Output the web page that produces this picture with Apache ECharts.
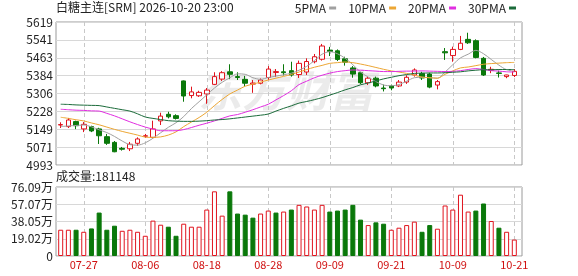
<!DOCTYPE html>
<html><head><meta charset="utf-8">
<script src="https://cdn.jsdelivr.net/npm/echarts@6/dist/echarts.min.js"></script>
<style>html,body{margin:0;padding:0;background:#fff}#c{width:578px;height:276px}</style>
</head><body><div id="c"></div>
<script>
const dates = ['07-22','07-23','07-24','07-27','07-28','07-29','07-30','07-31','08-03','08-04','08-05','08-06','08-07','08-10','08-11','08-12','08-13','08-14','08-17','08-18','08-19','08-20','08-21','08-24','08-25','08-26','08-27','08-28','08-31','09-01','09-02','09-03','09-04','09-07','09-08','09-09','09-10','09-11','09-14','09-15','09-16','09-17','09-18','09-21','09-22','09-23','09-24','09-25','09-28','09-29','09-30','10-09','10-12','10-13','10-14','10-15','10-16','10-19','10-20','10-21'];
const openP = [5168,5161,5183,5151,5161,5151,5117,5092,5066,5064,5088,5119,5114,5186,5215,5209,5361,5297,5296,5304,5346,5369,5401,5380,5368,5347,5351,5376,5398,5401,5406,5389,5400,5445,5456,5496,5493,5458,5418,5397,5353,5373,5330,5339,5339,5356,5387,5394,5391,5343,5489,5472,5499,5543,5537,5460,5408,5396,5380,5385];
const closeP = [5170,5190,5165,5171,5142,5121,5088,5051,5062,5084,5107,5121,5151,5207,5204,5197,5295,5313,5311,5321,5380,5397,5390,5376,5351,5352,5365,5413,5402,5397,5387,5438,5446,5467,5514,5490,5455,5443,5391,5353,5373,5339,5327,5330,5356,5377,5409,5374,5334,5358,5484,5499,5526,5528,5464,5387,5412,5394,5387,5403];
const lowP = [5155,5155,5150,5137,5137,5085,5081,5049,5056,5054,5077,5112,5110,5168,5197,5192,5270,5285,5291,5261,5343,5361,5369,5365,5339,5309,5346,5365,5378,5385,5380,5374,5387,5438,5450,5470,5448,5428,5375,5347,5343,5333,5315,5320,5334,5348,5380,5365,5329,5324,5453,5445,5496,5523,5460,5383,5395,5376,5373,5378];
const highP = [5180,5199,5187,5181,5165,5156,5129,5098,5072,5094,5114,5129,5187,5222,5226,5215,5363,5336,5318,5330,5399,5404,5434,5399,5383,5365,5372,5426,5413,5434,5445,5450,5460,5479,5523,5510,5499,5467,5426,5401,5379,5380,5345,5345,5365,5386,5416,5401,5397,5365,5505,5511,5558,5572,5543,5466,5423,5406,5388,5413];
const ma5 = [5161,5164,5166,5168,5160,5147,5135,5118,5098,5082,5080,5090,5110,5134,5158,5178,5205,5240,5270,5300,5330,5355,5375,5392,5390,5375,5368,5376,5382,5388,5395,5408,5425,5450,5478,5489,5480,5460,5432,5400,5378,5358,5343,5340,5345,5360,5375,5377,5375,5373,5400,5432,5462,5478,5495,5480,5455,5430,5410,5404];
const ma10 = [5202,5197,5191,5186,5177,5169,5159,5149,5140,5132,5124,5115,5114,5116,5124,5138,5161,5181,5201,5224,5253,5280,5304,5321,5338,5347,5356,5365,5373,5381,5389,5400,5411,5421,5429,5438,5441,5444,5441,5435,5428,5420,5412,5405,5400,5394,5386,5378,5375,5373,5390,5405,5418,5422,5428,5434,5437,5439,5441,5442];
const ma20 = [5237,5235,5233,5232,5230,5229,5219,5208,5195,5182,5170,5159,5150,5143,5143,5143,5148,5157,5167,5176,5186,5197,5208,5214,5224,5235,5247,5259,5278,5297,5318,5345,5360,5375,5386,5395,5402,5406,5409,5408,5406,5404,5402,5402,5403,5404,5404,5405,5404,5403,5402,5403,5406,5411,5415,5411,5406,5404,5401,5400];
const ma30 = [5259,5258,5256,5255,5254,5253,5247,5241,5235,5229,5217,5203,5197,5192,5187,5185,5184,5184,5185,5187,5190,5192,5195,5199,5203,5207,5211,5216,5229,5241,5252,5264,5271,5279,5288,5299,5310,5322,5332,5344,5352,5361,5370,5377,5384,5389,5394,5395,5396,5396,5397,5399,5401,5405,5408,5410,5410,5411,5411,5411];
const volume = [289500,289500,289500,267000,304000,479000,289500,334000,278000,289500,267000,223000,390000,345000,323000,223000,356000,323000,323000,512000,713000,445000,713000,468000,456000,423000,468000,501000,479000,490000,512000,564000,546000,512000,564000,490000,501000,512000,564000,401000,341000,371000,356000,289500,312000,341000,379000,267000,341000,301000,557000,512000,676000,490000,501000,579000,386000,312000,267000,181148];
const volUp = [1,1,0,1,0,0,0,0,1,1,1,1,1,1,0,0,1,1,1,1,1,1,0,0,0,0,1,1,0,1,0,1,1,1,1,0,0,0,0,0,1,0,0,1,1,1,1,0,0,1,1,1,1,1,0,0,1,0,1,1];
const priceTicks = ['4993','5071','5149','5228','5306','5384','5463','5541','5619'];
const volTicks = ['0','19.02万','38.05万','57.07万','76.09万'];
const titleText = '白糖主连[SRM] 2026-10-20 23:00';
const volTitle = '成交量:181148';

const RED = '#e0141e', GREEN = '#0a780a';
const FONT = '"Noto Sans CJK SC", "Noto Sans", sans-serif';
const candles = dates.map((d, i) => [openP[i], closeP[i], lowP[i], highP[i]]);
const volData = volume.map((v, i) => ({
  value: v,
  itemStyle: volUp[i] ? {color: '#fff', borderColor: RED, borderWidth: 1} : {color: GREEN, borderColor: GREEN, borderWidth: 1}
}));
const labelInterval = (i) => i % 8 === 3;
const L = 60.7, W = 453.6;

const chart = echarts.init(document.getElementById('c'), null, {renderer: 'canvas'});
chart.setOption({
  animation: false,
  textStyle: {fontFamily: FONT},
  title: [
    {text: titleText, left: 56, top: 1, padding: 0, textStyle: {fontSize: 12, fontWeight: 'normal', color: '#222', fontFamily: FONT}},
    {text: volTitle, left: 56, top: 170, padding: 0, textStyle: {fontSize: 12, fontWeight: 'normal', color: '#222', fontFamily: FONT}}
  ],
  legend: {
    right: 62, top: 2, padding: 0, align: 'right', itemWidth: 7, itemHeight: 3, itemGap: 12, icon: 'rect',
    textStyle: {fontSize: 12, color: '#222', fontFamily: FONT, padding: [0, -2, 0, 0]},
    data: ['5PMA', '10PMA', '20PMA', '30PMA']
  },
  graphic: [{
    type: 'text', left: 198, top: 68, z: 0, silent: true,
    style: {text: '东方财富', fontSize: 44, fontWeight: 'bold', fontStyle: 'italic', fill: 'rgba(0,0,0,0.08)', fontFamily: FONT}
  }],
  grid: [
    {left: 56, top: 22, width: 466, height: 143, show: true, borderColor: '#9a9a9a', borderWidth: 1},
    {left: L, top: 22, width: W, height: 143},
    {left: 56, top: 187, width: 466, height: 69, show: true, borderColor: '#9a9a9a', borderWidth: 1},
    {left: L, top: 187, width: W, height: 69}
  ],
  xAxis: [
    {gridIndex: 0, type: 'value', min: 0, max: 1, show: false},
    {gridIndex: 1, type: 'category', data: dates, boundaryGap: false,
     axisLine: {show: false}, axisTick: {show: false}, axisLabel: {show: false},
     splitLine: {show: true, interval: labelInterval, lineStyle: {color: '#c8c8c8', type: [4, 3]}}},
    {gridIndex: 2, type: 'value', min: 0, max: 1, show: false},
    {gridIndex: 3, type: 'category', data: dates, boundaryGap: false,
     axisLine: {show: false}, axisTick: {show: false},
     axisLabel: {show: true, interval: labelInterval, color: '#d01010', fontSize: 11, margin: 3, fontFamily: FONT},
     splitLine: {show: true, interval: labelInterval, lineStyle: {color: '#c8c8c8', type: [4, 3]}}}
  ],
  yAxis: [
    {gridIndex: 0, type: 'value', min: 0, max: 8, interval: 1,
     axisLine: {show: false}, axisTick: {show: false},
     axisLabel: {formatter: (v) => priceTicks[v], fontSize: 12, color: '#222', margin: 3, fontFamily: FONT},
     splitLine: {lineStyle: {color: '#d8d8d8'}}},
    {gridIndex: 1, type: 'value', min: 4993, max: 5619, show: false, splitLine: {show: false}},
    {gridIndex: 2, type: 'value', min: 0, max: 4, interval: 1,
     axisLine: {show: false}, axisTick: {show: false},
     axisLabel: {formatter: (v) => volTicks[v], fontSize: 12, color: '#222', margin: 3, fontFamily: FONT},
     splitLine: {lineStyle: {color: '#d8d8d8'}}},
    {gridIndex: 3, type: 'value', min: 0, max: 760900, show: false, splitLine: {show: false}}
  ],
  series: [
    {type: 'candlestick', xAxisIndex: 1, yAxisIndex: 1, data: candles, barWidth: 5,
     itemStyle: {color: '#fff', color0: GREEN, borderColor: RED, borderColor0: GREEN, borderWidth: 1}},
    {name: '5PMA', type: 'line', xAxisIndex: 1, yAxisIndex: 1, data: ma5, symbol: 'none', smooth: 0.3,
     color: '#a0a0a0', lineStyle: {width: 1, color: '#a0a0a0'}},
    {name: '10PMA', type: 'line', xAxisIndex: 1, yAxisIndex: 1, data: ma10, symbol: 'none', smooth: 0.3,
     color: '#eca634', lineStyle: {width: 1, color: '#eca634'}},
    {name: '20PMA', type: 'line', xAxisIndex: 1, yAxisIndex: 1, data: ma20, symbol: 'none', smooth: 0.3,
     color: '#e02ee0', lineStyle: {width: 1, color: '#e02ee0'}},
    {name: '30PMA', type: 'line', xAxisIndex: 1, yAxisIndex: 1, data: ma30, symbol: 'none', smooth: 0.3,
     color: '#1b6b3a', lineStyle: {width: 1, color: '#1b6b3a'}},
    {type: 'bar', xAxisIndex: 3, yAxisIndex: 3, data: volData, barWidth: 5}
  ]
});
</script></body></html>
